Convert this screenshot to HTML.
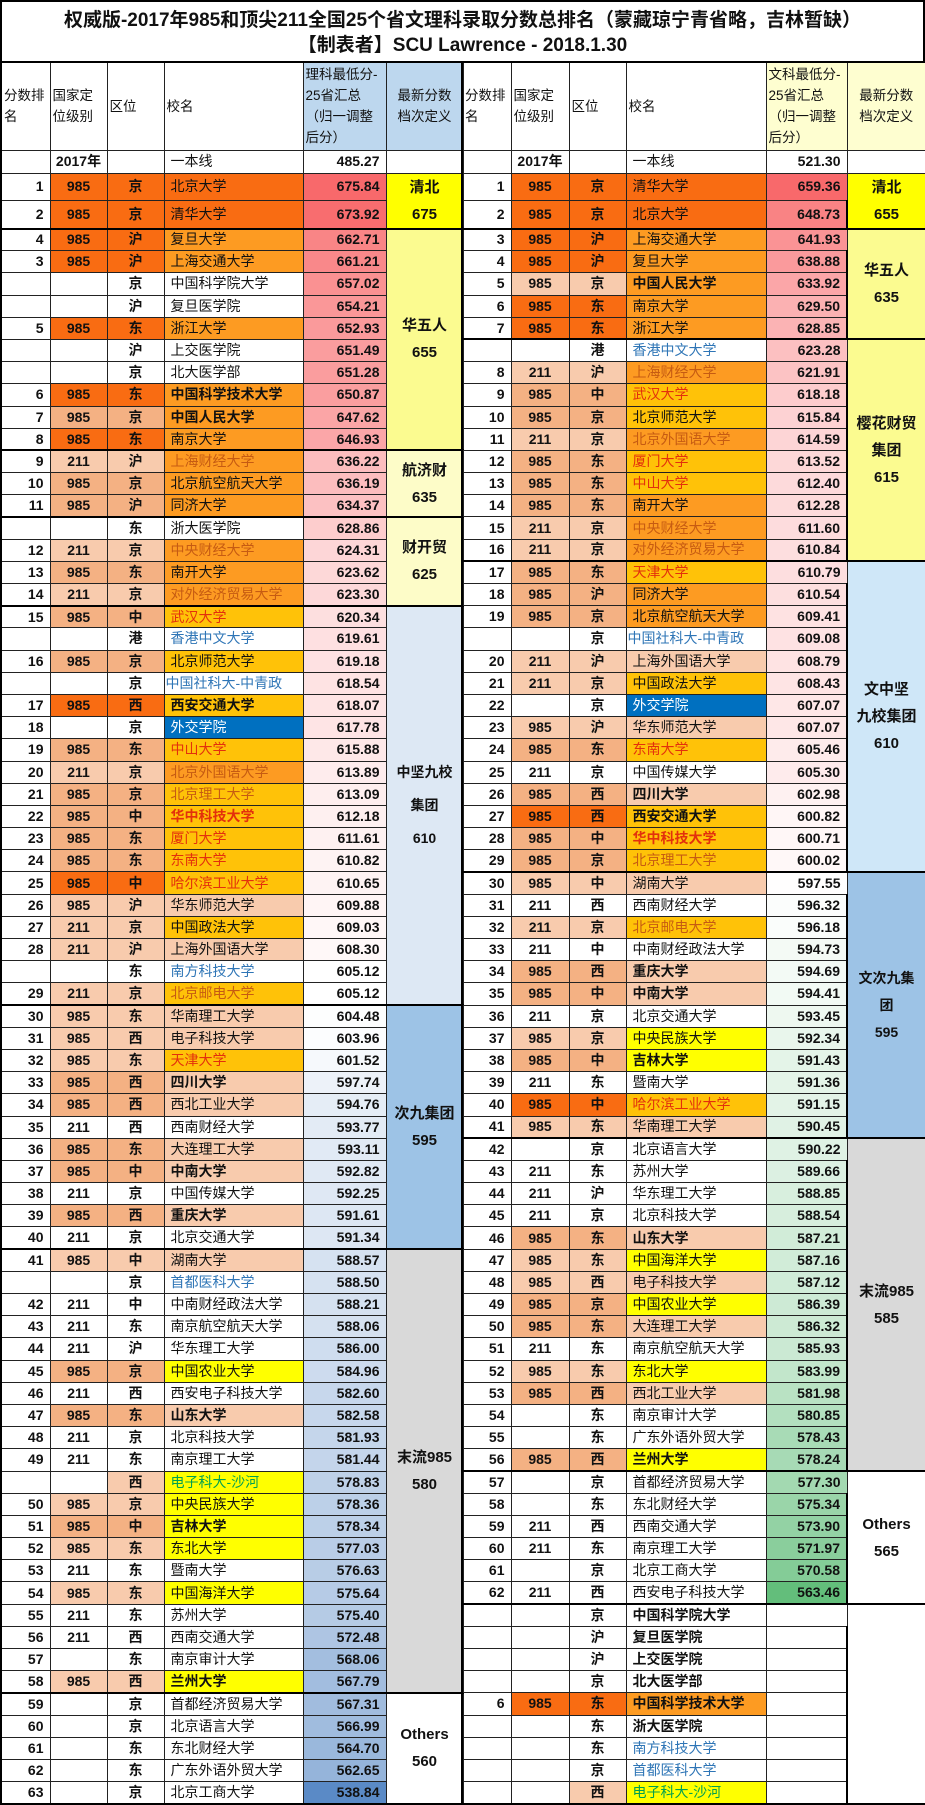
<!DOCTYPE html>
<html><head><meta charset="utf-8">
<style>
*{margin:0;padding:0;box-sizing:border-box}
body{width:925px;height:1795px;background:#fff;font-family:"Liberation Sans","Noto Sans CJK SC",sans-serif;color:#111;position:relative;overflow:hidden}
#title{position:absolute;left:0;top:0;width:925px;height:62px;border:2px solid #000;border-bottom:none;text-align:center;font-weight:bold;font-size:19px;line-height:25px;padding-top:6px}
table{position:absolute;top:61px;border-collapse:collapse;table-layout:fixed;font-size:14px}
#L{left:0;width:462px}
#R{left:461px;width:464px}
td{border:1px solid #222;padding:0 4px;line-height:19px;white-space:nowrap;overflow:hidden;height:22.2px}
tr.h td{height:88px;font-size:13.5px;line-height:21px;font-weight:normal;vertical-align:middle;white-space:normal;padding:0 2px;border-top:2px solid #000}
tr.y td{height:23px}
td:nth-child(1){text-align:right;font-weight:bold;padding-right:6px}
td:nth-child(2),td:nth-child(3){text-align:center;font-weight:bold}
td:nth-child(4){text-align:left;padding-left:6px}
td:nth-child(5){text-align:right;font-weight:bold;padding-right:6px}
td:nth-child(6){text-align:center;font-weight:bold;font-size:15px;line-height:27px;white-space:normal;border-bottom:2.5px solid #000}
tr.h td:nth-child(6){font-size:13.5px;line-height:21px;font-weight:normal;border-bottom:1px solid #222}
tr.h td{font-weight:normal!important;text-align:left!important}
tr.e td{border-bottom:2.5px solid #000}
.D{background:#f96c12}.p{background:#f4b183}.q{background:#f8cbad}
.O{background:#fd9b22}.G{background:#ffc208}.Y{background:#ffff00}.P{background:#f8cbad}
.B{background:#0070c0;color:#fff}
.r{color:#e3300c}.o{color:#c65b12}.b{color:#2e75b6}.g{color:#00a050}
.k{font-weight:bold}
.t1{background:#ffff00}.t2{background:#fbfb90}.t3{background:#fdfcc8}.t4{background:#dde8f4}.t4r{background:#cfe7f8}.t5{background:#9dc3e6}.t6{background:#d9d9d9}.t7{background:#fff}
.hb{background:#bdd7ee}.hy{background:#fefed0}
#R td:first-child{border-left:2.5px solid #000}
#R td:last-child{border-right:2px solid #000}
#L td:first-child{border-left:2px solid #000}
</style></head><body>
<div id="title">权威版-2017年985和顶尖211全国25个省文理科录取分数总排名（蒙藏琼宁青省略，吉林暂缺）<br>【制表者】SCU Lawrence - 2018.1.30</div>

<table id="L">
<colgroup><col style="width:49px"><col style="width:57px"><col style="width:57px"><col style="width:139px"><col style="width:83px"><col style="width:77px"></colgroup>
<tr class="h"><td>分数排<br>名<td>国家定<br>位级别<td>区位<td>校名<td class="hb">理科最低分-<br>25省汇总<br>（归一调整<br>后分）<td class="hb" style="text-align:center!important">最新分数<br>档次定义</tr>
<tr class="y"><td><td>2017年<td><td>一本线<td>485.27<td style="border-bottom:1px solid #222"></tr>
<tr><td>1<td class=D>985<td class=D>京<td class=D>北京大学<td class=s>675.84<td rowspan=2 class=t1>清北<br>675</tr>
<tr class=e><td>2<td class=D>985<td class=D>京<td class=D>清华大学<td class=s>673.92</tr>
<tr><td>4<td class=D>985<td class=D>沪<td class=O>复旦大学<td class=s>662.71<td rowspan=10 class=t2>华五人<br>655</tr>
<tr><td>3<td class=D>985<td class=D>沪<td class=O>上海交通大学<td class=s>661.21</tr>
<tr><td><td><td>京<td>中国科学院大学<td class=s>657.02</tr>
<tr><td><td><td>沪<td>复旦医学院<td class=s>654.21</tr>
<tr><td>5<td class=D>985<td class=D>东<td class=O>浙江大学<td class=s>652.93</tr>
<tr><td><td><td>沪<td>上交医学院<td class=s>651.49</tr>
<tr><td><td><td>京<td>北大医学部<td class=s>651.28</tr>
<tr><td>6<td class=D>985<td class=D>东<td class="O k">中国科学技术大学<td class=s>650.87</tr>
<tr><td>7<td class=p>985<td class=p>京<td class="O k">中国人民大学<td class=s>647.62</tr>
<tr class=e><td>8<td class=D>985<td class=D>东<td class=O>南京大学<td class=s>646.93</tr>
<tr><td>9<td class=q>211<td class=q>沪<td class="O o">上海财经大学<td class=s>636.22<td rowspan=3 class=t3>航济财<br>635</tr>
<tr><td>10<td class=p>985<td class=p>京<td class=O>北京航空航天大学<td class=s>636.19</tr>
<tr class=e><td>11<td class=p>985<td class=p>沪<td class=O>同济大学<td class=s>634.37</tr>
<tr><td><td><td>东<td>浙大医学院<td class=s>628.86<td rowspan=4 class=t3>财开贸<br>625</tr>
<tr><td>12<td class=q>211<td class=q>京<td class="O o">中央财经大学<td class=s>624.31</tr>
<tr><td>13<td class=p>985<td class=p>东<td class=O>南开大学<td class=s>623.62</tr>
<tr class=e><td>14<td class=q>211<td class=q>京<td class="O o">对外经济贸易大学<td class=s>623.30</tr>
<tr><td>15<td class=p>985<td class=p>中<td class="G r">武汉大学<td class=s>620.34<td rowspan=18 class=t4 style="font-size:14px;line-height:33px">中坚九校<br>集团<br>610</tr>
<tr><td><td><td>港<td class=b>香港中文大学<td class=s>619.61</tr>
<tr><td>16<td class=p>985<td class=p>京<td class=G>北京师范大学<td class=s>619.18</tr>
<tr><td><td><td>京<td class=b style="padding-left:1px">中国社科大-中青政<td class=s>618.54</tr>
<tr><td>17<td class=D>985<td class=D>西<td class="G k">西安交通大学<td class=s>618.07</tr>
<tr><td>18<td><td>京<td class=B>外交学院<td class=s>617.78</tr>
<tr><td>19<td class=p>985<td class=p>东<td class="G r">中山大学<td class=s>615.88</tr>
<tr><td>20<td class=q>211<td class=q>京<td class="O o">北京外国语大学<td class=s>613.89</tr>
<tr><td>21<td class=p>985<td class=p>京<td class="G o">北京理工大学<td class=s>613.09</tr>
<tr><td>22<td class=p>985<td class=p>中<td class="G r k">华中科技大学<td class=s>612.18</tr>
<tr><td>23<td class=p>985<td class=p>东<td class="G r">厦门大学<td class=s>611.61</tr>
<tr><td>24<td class=p>985<td class=p>东<td class="G r">东南大学<td class=s>610.82</tr>
<tr><td>25<td class=D>985<td class=D>中<td class="G r">哈尔滨工业大学<td class=s>610.65</tr>
<tr><td>26<td class=q>985<td class=q>沪<td class=P>华东师范大学<td class=s>609.88</tr>
<tr><td>27<td class=q>211<td class=q>京<td class=G>中国政法大学<td class=s>609.03</tr>
<tr><td>28<td class=q>211<td class=q>沪<td class=P>上海外国语大学<td class=s>608.30</tr>
<tr><td><td><td>东<td class=b>南方科技大学<td class=s>605.12</tr>
<tr class=e><td>29<td class=q>211<td class=q>京<td class="G o">北京邮电大学<td class=s>605.12</tr>
<tr><td>30<td class=q>985<td class=q>东<td class=P>华南理工大学<td class=s>604.48<td rowspan=11 class=t5>次九集团<br>595</tr>
<tr><td>31<td class=q>985<td class=q>西<td class=P>电子科技大学<td class=s>603.96</tr>
<tr><td>32<td class=q>985<td class=q>东<td class="G r">天津大学<td class=s>601.52</tr>
<tr><td>33<td class=p>985<td class=p>西<td class="P k">四川大学<td class=s>597.74</tr>
<tr><td>34<td class=p>985<td class=p>西<td class=P>西北工业大学<td class=s>594.76</tr>
<tr><td>35<td>211<td>西<td>西南财经大学<td class=s>593.77</tr>
<tr><td>36<td class=p>985<td class=p>东<td class=P>大连理工大学<td class=s>593.11</tr>
<tr><td>37<td class=p>985<td class=p>中<td class="P k">中南大学<td class=s>592.82</tr>
<tr><td>38<td>211<td>京<td>中国传媒大学<td class=s>592.25</tr>
<tr><td>39<td class=p>985<td class=p>西<td class="P k">重庆大学<td class=s>591.61</tr>
<tr class=e><td>40<td>211<td>京<td>北京交通大学<td class=s>591.34</tr>
<tr><td>41<td class=q>985<td class=q>中<td class=P>湖南大学<td class=s>588.57<td rowspan=20 class=t6>末流985<br>580</tr>
<tr><td><td><td>京<td class=b>首都医科大学<td class=s>588.50</tr>
<tr><td>42<td>211<td>中<td>中南财经政法大学<td class=s>588.21</tr>
<tr><td>43<td>211<td>东<td>南京航空航天大学<td class=s>588.06</tr>
<tr><td>44<td>211<td>沪<td>华东理工大学<td class=s>586.00</tr>
<tr><td>45<td class=p>985<td class=p>京<td class=Y>中国农业大学<td class=s>584.96</tr>
<tr><td>46<td>211<td>西<td>西安电子科技大学<td class=s>582.60</tr>
<tr><td>47<td class=p>985<td class=p>东<td class="P k">山东大学<td class=s>582.58</tr>
<tr><td>48<td>211<td>京<td>北京科技大学<td class=s>581.93</tr>
<tr><td>49<td>211<td>东<td>南京理工大学<td class=s>581.44</tr>
<tr><td><td><td class=q>西<td class="Y g">电子科大-沙河<td class=s>578.83</tr>
<tr><td>50<td class=q>985<td class=q>京<td class=Y>中央民族大学<td class=s>578.36</tr>
<tr><td>51<td class=p>985<td class=p>中<td class="Y k">吉林大学<td class=s>578.34</tr>
<tr><td>52<td class=q>985<td class=q>东<td class=Y>东北大学<td class=s>577.03</tr>
<tr><td>53<td>211<td>东<td>暨南大学<td class=s>576.63</tr>
<tr><td>54<td class=q>985<td class=q>东<td class=Y>中国海洋大学<td class=s>575.64</tr>
<tr><td>55<td>211<td>东<td>苏州大学<td class=s>575.40</tr>
<tr><td>56<td>211<td>西<td>西南交通大学<td class=s>572.48</tr>
<tr><td>57<td><td>东<td>南京审计大学<td class=s>568.06</tr>
<tr class=e><td>58<td class=q>985<td class=q>西<td class="Y k">兰州大学<td class=s>567.79</tr>
<tr><td>59<td><td>京<td>首都经济贸易大学<td class=s>567.31<td rowspan=5 class=t7>Others<br>560</tr>
<tr><td>60<td><td>京<td>北京语言大学<td class=s>566.99</tr>
<tr><td>61<td><td>东<td>东北财经大学<td class=s>564.70</tr>
<tr><td>62<td><td>东<td>广东外语外贸大学<td class=s>562.65</tr>
<tr class=e><td>63<td><td>京<td>北京工商大学<td class=s>538.84</tr>
</table>

<table id="R">
<colgroup><col style="width:49px"><col style="width:58px"><col style="width:57px"><col style="width:140px"><col style="width:81px"><col style="width:79px"></colgroup>
<tr class="h"><td>分数排<br>名<td>国家定<br>位级别<td>区位<td>校名<td class="hy">文科最低分-<br>25省汇总<br>（归一调整<br>后分）<td class="hy" style="text-align:center!important">最新分数<br>档次定义</tr>
<tr class="y"><td><td>2017年<td><td>一本线<td>521.30<td style="border-bottom:1px solid #222"></tr>
<tr><td>1<td class=D>985<td class=D>京<td class=D>清华大学<td class=t>659.36<td rowspan=2 class=t1>清北<br>655</tr>
<tr class=e><td>2<td class=D>985<td class=D>京<td class=D>北京大学<td class=t>648.73</tr>
<tr><td>3<td class=D>985<td class=D>沪<td class=O>上海交通大学<td class=t>641.93<td rowspan=5 class=t2>华五人<br>635</tr>
<tr><td>4<td class=D>985<td class=D>沪<td class=O>复旦大学<td class=t>638.88</tr>
<tr><td>5<td class=q>985<td class=q>京<td class="O k">中国人民大学<td class=t>633.92</tr>
<tr><td>6<td class=D>985<td class=D>东<td class=O>南京大学<td class=t>629.50</tr>
<tr class=e><td>7<td class=D>985<td class=D>东<td class=O>浙江大学<td class=t>628.85</tr>
<tr><td><td><td>港<td class=b>香港中文大学<td class=t>623.28<td rowspan=10 class=t2>樱花财贸<br>集团<br>615</tr>
<tr><td>8<td class=q>211<td class=q>沪<td class="O o">上海财经大学<td class=t>621.91</tr>
<tr><td>9<td class=p>985<td class=p>中<td class="G r">武汉大学<td class=t>618.18</tr>
<tr><td>10<td class=p>985<td class=p>京<td class=G>北京师范大学<td class=t>615.84</tr>
<tr><td>11<td class=q>211<td class=q>京<td class="O o">北京外国语大学<td class=t>614.59</tr>
<tr><td>12<td class=p>985<td class=p>东<td class="G r">厦门大学<td class=t>613.52</tr>
<tr><td>13<td class=p>985<td class=p>东<td class="G r">中山大学<td class=t>612.40</tr>
<tr><td>14<td class=p>985<td class=p>东<td class=O>南开大学<td class=t>612.28</tr>
<tr><td>15<td class=q>211<td class=q>京<td class="O o">中央财经大学<td class=t>611.60</tr>
<tr class=e><td>16<td class=q>211<td class=q>京<td class="O o">对外经济贸易大学<td class=t>610.84</tr>
<tr><td>17<td class=p>985<td class=p>东<td class="G r">天津大学<td class=t>610.79<td rowspan=14 class=t4r>文中坚<br>九校集团<br>610</tr>
<tr><td>18<td class=p>985<td class=p>沪<td class=O>同济大学<td class=t>610.54</tr>
<tr><td>19<td class=p>985<td class=p>京<td class=O>北京航空航天大学<td class=t>609.41</tr>
<tr><td><td><td>京<td class=b style="padding-left:1px">中国社科大-中青政<td class=t>609.08</tr>
<tr><td>20<td class=q>211<td class=q>沪<td class=P>上海外国语大学<td class=t>608.79</tr>
<tr><td>21<td class=q>211<td class=q>京<td class=G>中国政法大学<td class=t>608.43</tr>
<tr><td>22<td><td>京<td class=B>外交学院<td class=t>607.07</tr>
<tr><td>23<td class=q>985<td class=q>沪<td class=P>华东师范大学<td class=t>607.07</tr>
<tr><td>24<td class=p>985<td class=p>东<td class="G r">东南大学<td class=t>605.46</tr>
<tr><td>25<td>211<td>京<td>中国传媒大学<td class=t>605.30</tr>
<tr><td>26<td class=p>985<td class=p>西<td class="P k">四川大学<td class=t>602.98</tr>
<tr><td>27<td class=D>985<td class=D>西<td class="G k">西安交通大学<td class=t>600.82</tr>
<tr><td>28<td class=p>985<td class=p>中<td class="G r k">华中科技大学<td class=t>600.71</tr>
<tr class=e><td>29<td class=p>985<td class=p>京<td class="G o">北京理工大学<td class=t>600.02</tr>
<tr><td>30<td class=q>985<td class=q>中<td class=P>湖南大学<td class=t>597.55<td rowspan=12 class=t5 style="font-size:14px">文次九集团<br>595</tr>
<tr><td>31<td>211<td>西<td>西南财经大学<td class=t>596.32</tr>
<tr><td>32<td class=q>211<td class=q>京<td class="G o">北京邮电大学<td class=t>596.18</tr>
<tr><td>33<td>211<td>中<td>中南财经政法大学<td class=t>594.73</tr>
<tr><td>34<td class=p>985<td class=p>西<td class="P k">重庆大学<td class=t>594.69</tr>
<tr><td>35<td class=p>985<td class=p>中<td class="P k">中南大学<td class=t>594.41</tr>
<tr><td>36<td>211<td>京<td>北京交通大学<td class=t>593.45</tr>
<tr><td>37<td class=q>985<td class=q>京<td class=Y>中央民族大学<td class=t>592.34</tr>
<tr><td>38<td class=p>985<td class=p>中<td class="Y k">吉林大学<td class=t>591.43</tr>
<tr><td>39<td>211<td>东<td>暨南大学<td class=t>591.36</tr>
<tr><td>40<td class=D>985<td class=D>中<td class="G r">哈尔滨工业大学<td class=t>591.15</tr>
<tr class=e><td>41<td class=q>985<td class=q>东<td class=P>华南理工大学<td class=t>590.45</tr>
<tr><td>42<td><td>京<td>北京语言大学<td class=t>590.22<td rowspan=15 class=t6>末流985<br>585</tr>
<tr><td>43<td>211<td>东<td>苏州大学<td class=t>589.66</tr>
<tr><td>44<td>211<td>沪<td>华东理工大学<td class=t>588.85</tr>
<tr><td>45<td>211<td>京<td>北京科技大学<td class=t>588.54</tr>
<tr><td>46<td class=p>985<td class=p>东<td class="P k">山东大学<td class=t>587.21</tr>
<tr><td>47<td class=q>985<td class=q>东<td class=Y>中国海洋大学<td class=t>587.16</tr>
<tr><td>48<td class=q>985<td class=q>西<td class=P>电子科技大学<td class=t>587.12</tr>
<tr><td>49<td class=p>985<td class=p>京<td class=Y>中国农业大学<td class=t>586.39</tr>
<tr><td>50<td class=p>985<td class=p>东<td class=P>大连理工大学<td class=t>586.32</tr>
<tr><td>51<td>211<td>东<td>南京航空航天大学<td class=t>585.93</tr>
<tr><td>52<td class=q>985<td class=q>东<td class=Y>东北大学<td class=t>583.99</tr>
<tr><td>53<td class=p>985<td class=p>西<td class=P>西北工业大学<td class=t>581.98</tr>
<tr><td>54<td><td>东<td>南京审计大学<td class=t>580.85</tr>
<tr><td>55<td><td>东<td>广东外语外贸大学<td class=t>578.43</tr>
<tr class=e><td>56<td class=p>985<td class=p>西<td class="Y k">兰州大学<td class=t>578.24</tr>
<tr><td>57<td><td>京<td>首都经济贸易大学<td class=t>577.30<td rowspan=6 class=t7>Others<br>565</tr>
<tr><td>58<td><td>东<td>东北财经大学<td class=t>575.34</tr>
<tr><td>59<td>211<td>西<td>西南交通大学<td class=t>573.90</tr>
<tr><td>60<td>211<td>东<td>南京理工大学<td class=t>571.97</tr>
<tr><td>61<td><td>京<td>北京工商大学<td class=t>570.58</tr>
<tr class=e><td>62<td>211<td>西<td>西安电子科技大学<td class=t>563.46</tr>
<tr><td><td><td>京<td class=k>中国科学院大学<td><td rowspan=9 class=t7></tr>
<tr><td><td><td>沪<td class=k>复旦医学院<td></tr>
<tr><td><td><td>沪<td class=k>上交医学院<td></tr>
<tr><td><td><td>京<td class=k>北大医学部<td></tr>
<tr><td>6<td class=D>985<td class=D>东<td class="O k">中国科学技术大学<td></tr>
<tr><td><td><td>东<td class=k>浙大医学院<td></tr>
<tr><td><td><td>东<td class=b>南方科技大学<td></tr>
<tr><td><td><td>京<td class=b>首都医科大学<td></tr>
<tr class=e><td><td><td class=q>西<td class="Y g">电子科大-沙河<td></tr>
</table>
<script>
function mix(a,b,t){return 'rgb('+a.map((v,i)=>Math.round(v+(b[i]-v)*t)).join(',')+')';}
function paint(cls,max,mid,min,hi,lo){
 document.querySelectorAll('td.'+cls).forEach(function(td){
  var v=parseFloat(td.textContent);var W=[255,255,255];
  if(v>=mid){td.style.background=mix(W,hi,Math.min(1,(v-mid)/(max-mid)));}
  else{td.style.background=mix(W,lo,Math.min(1,(mid-v)/(mid-min)));}
 });
}
paint('s',675.84,605.12,538.84,[248,105,107],[90,138,198]);
paint('t',659.36,597.2,563.46,[248,105,107],[99,190,123]);
</script>
</body></html>
